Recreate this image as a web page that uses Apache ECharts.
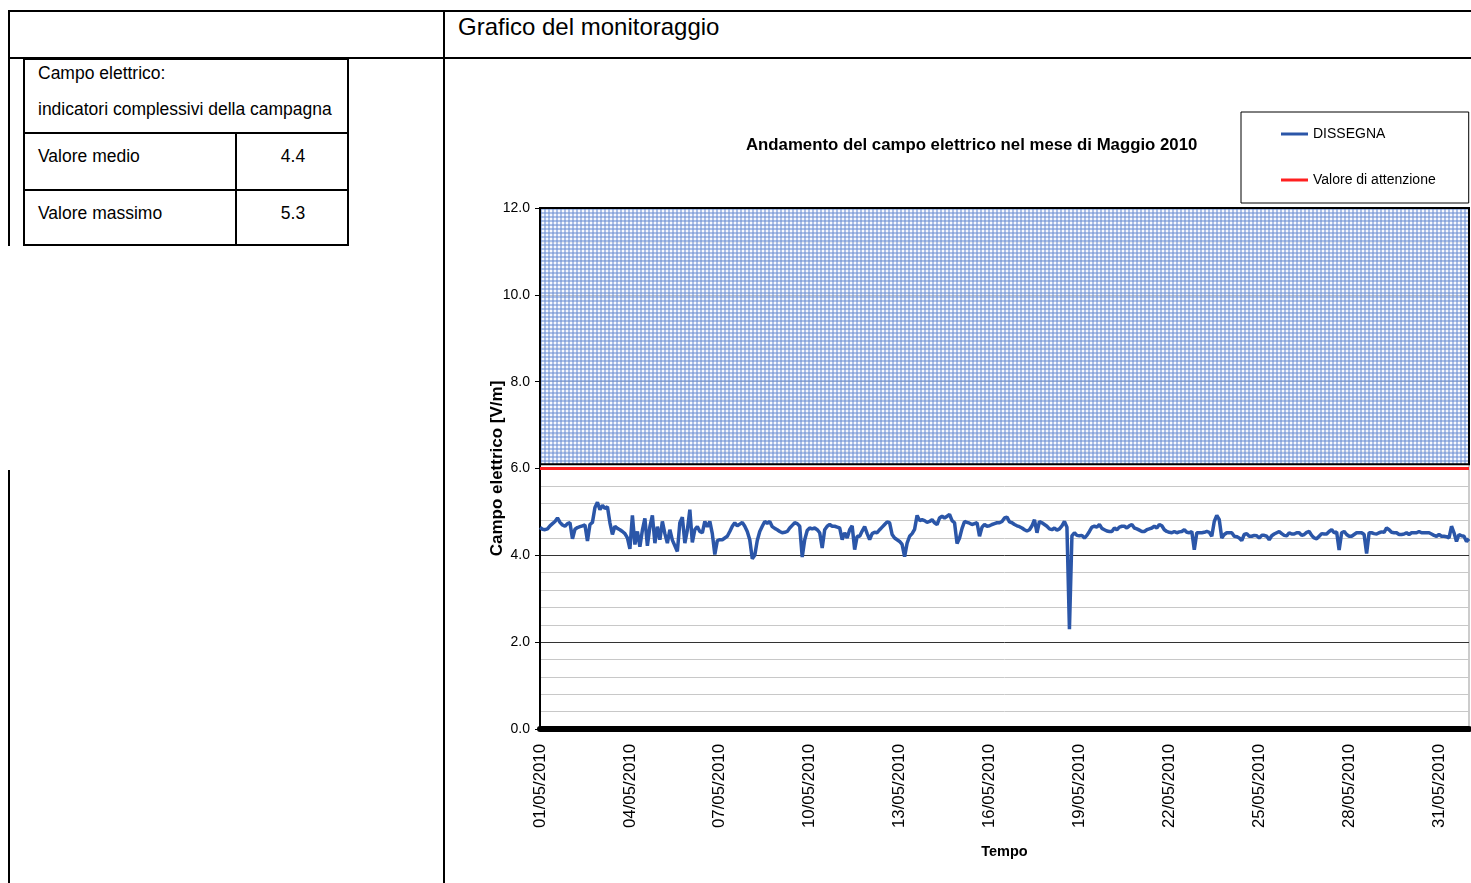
<!DOCTYPE html>
<html><head><meta charset="utf-8">
<script src="https://cdn.jsdelivr.net/npm/echarts@6/dist/echarts.min.js"></script>
<style>
html,body{margin:0;padding:0;background:#fff;}
body{width:1471px;height:883px;position:relative;overflow:hidden;font-family:'Liberation Sans',Arial,sans-serif;}
.l{position:absolute;background:#000;}
.t{position:absolute;font-size:17.5px;line-height:20px;color:#000;white-space:nowrap;}
#chart{position:absolute;left:0;top:0;width:1471px;height:883px;}
</style></head><body>
<div class="l" style="left:8px;top:10px;width:1463px;height:2px"></div>
<div class="l" style="left:8px;top:57px;width:1463px;height:2px"></div>
<div class="l" style="left:8px;top:10px;width:2px;height:236px"></div>
<div class="l" style="left:8px;top:470px;width:2px;height:413px"></div>
<div class="l" style="left:443px;top:10px;width:2px;height:873px"></div>
<div style="position:absolute;left:23px;top:58px;width:322px;height:184px;border:2px solid #000"></div>
<div class="l" style="left:23px;top:132px;width:326px;height:2px"></div>
<div class="l" style="left:23px;top:189px;width:326px;height:2px"></div>
<div class="l" style="left:235px;top:133px;width:2px;height:113px"></div>
<div class="t" style="left:458px;top:13px;font-size:24px;line-height:28px">Grafico del monitoraggio</div>
<div class="t" style="left:38px;top:63px">Campo elettrico:</div>
<div class="t" style="left:38px;top:99px">indicatori complessivi della campagna</div>
<div class="t" style="left:38px;top:146px">Valore medio</div>
<div class="t" style="left:237px;width:112px;text-align:center;top:146px">4.4</div>
<div class="t" style="left:38px;top:203px">Valore massimo</div>
<div class="t" style="left:237px;width:112px;text-align:center;top:203px">5.3</div>
<div id="chart"></div>
<script>
// ---- data ----
const xTickLabels = ['01/05/2010','04/05/2010','07/05/2010','10/05/2010','13/05/2010','16/05/2010',
  '19/05/2010','22/05/2010','25/05/2010','28/05/2010','31/05/2010'];
const axisDays = [0, 31];          // 01/05/2010 00:00 .. 01/06/2010 00:00
const stepHours = 2;               // sampling step of the readings
const dissegna = [
  4.64,4.60,4.59,4.61,4.68,4.73,4.78,4.86,4.76,4.70,4.67,4.73,
  4.75,4.38,4.60,4.64,4.66,4.68,4.70,4.33,4.71,4.76,5.10,5.22,
  5.05,5.15,5.08,5.12,4.75,4.48,4.67,4.62,4.59,4.55,4.50,4.40,
  4.15,4.92,4.25,4.55,4.20,4.58,4.85,4.22,4.66,4.92,4.28,4.66,
  4.36,4.78,4.50,4.28,4.59,4.35,4.22,4.09,4.75,4.88,4.28,4.58,
  5.05,4.30,4.59,4.66,4.55,4.52,4.78,4.66,4.78,4.50,4.02,4.34,
  4.36,4.36,4.40,4.44,4.55,4.67,4.75,4.68,4.72,4.76,4.67,4.55,
  4.36,3.92,4.00,4.34,4.55,4.67,4.78,4.74,4.78,4.66,4.62,4.59,
  4.55,4.52,4.53,4.55,4.63,4.69,4.75,4.73,4.67,3.96,4.36,4.57,
  4.63,4.61,4.63,4.59,4.52,4.17,4.59,4.67,4.71,4.67,4.67,4.65,
  4.63,4.36,4.52,4.40,4.59,4.68,4.13,4.44,4.44,4.56,4.66,4.50,
  4.36,4.50,4.53,4.52,4.59,4.65,4.71,4.77,4.75,4.48,4.40,4.36,
  4.32,4.25,3.97,4.28,4.44,4.50,4.60,4.92,4.80,4.82,4.80,4.76,
  4.78,4.82,4.75,4.71,4.86,4.90,4.86,4.90,4.94,4.80,4.75,4.27,
  4.40,4.62,4.78,4.76,4.74,4.71,4.73,4.75,4.44,4.65,4.71,4.67,
  4.68,4.71,4.73,4.75,4.75,4.78,4.86,4.88,4.77,4.75,4.71,4.68,
  4.66,4.63,4.59,4.56,4.59,4.68,4.82,4.52,4.78,4.75,4.71,4.67,
  4.61,4.59,4.63,4.58,4.61,4.68,4.78,4.65,2.30,4.45,4.52,4.46,
  4.45,4.46,4.40,4.46,4.55,4.65,4.67,4.65,4.71,4.62,4.59,4.56,
  4.55,4.55,4.63,4.59,4.65,4.67,4.67,4.63,4.68,4.71,4.63,4.61,
  4.58,4.55,4.55,4.59,4.61,4.63,4.67,4.63,4.71,4.68,4.59,4.55,
  4.53,4.52,4.55,4.52,4.54,4.55,4.59,4.53,4.52,4.55,4.13,4.52,
  4.52,4.52,4.53,4.55,4.53,4.44,4.78,4.92,4.82,4.40,4.48,4.52,
  4.52,4.52,4.44,4.43,4.40,4.34,4.48,4.50,4.44,4.44,4.46,4.45,
  4.40,4.46,4.46,4.44,4.36,4.45,4.49,4.52,4.55,4.50,4.46,4.45,
  4.52,4.49,4.49,4.52,4.52,4.46,4.48,4.53,4.55,4.46,4.40,4.38,
  4.44,4.50,4.49,4.49,4.55,4.59,4.52,4.54,4.12,4.52,4.55,4.48,
  4.44,4.44,4.48,4.52,4.52,4.52,4.48,4.04,4.52,4.52,4.50,4.49,
  4.52,4.54,4.53,4.63,4.59,4.53,4.52,4.52,4.48,4.48,4.49,4.52,
  4.48,4.52,4.52,4.52,4.55,4.52,4.52,4.52,4.52,4.49,4.46,4.44,
  4.48,4.44,4.44,4.43,4.40,4.67,4.52,4.32,4.48,4.45,4.44,4.32,
  4.38
];
const attenzione = 6.0;
const hatchBand = [6.1, 12.0];
const yRange = [0, 12];

// ---- chart ----
const REG = "'Liberation Sans',Arial,sans-serif";
function makeHatch(){
  const c = document.createElement('canvas'); c.width = 4; c.height = 4;
  const g = c.getContext('2d');
  g.fillStyle = 'rgba(244,247,253,0.75)'; g.fillRect(0,0,4,4);
  g.fillStyle = 'rgba(112,146,212,0.55)'; g.fillRect(0,0,4,2); g.fillRect(0,0,2,4);
  return c;
}
const lineData = dissegna.map((v,i)=>[i*stepHours/24, v]);
const chart = echarts.init(document.getElementById('chart'), null, {renderer:'canvas'});
chart.setOption({
  animation:false,
  title:{text:'Andamento del campo elettrico nel mese di Maggio 2010', left:741, top:132,
    textStyle:{fontFamily:REG, fontWeight:'bold', fontSize:16.8, color:'#000'}},
  legend:{left:1241, top:112, orient:'vertical', padding:[15,33,16,40], itemGap:32,
    borderColor:'#000', borderWidth:1, icon:'rect', itemWidth:27, itemHeight:3,
    textStyle:{fontFamily:REG, fontSize:14, color:'#000'},
    data:['DISSEGNA','Valore di attenzione']},
  grid:{left:540, top:208, right:2, bottom:154, show:true, borderColor:'#999', borderWidth:1},
  xAxis:{type:'value', min:axisDays[0], max:axisDays[1], interval:3,
    name:'Tempo', nameLocation:'middle', nameGap:115,
    nameTextStyle:{fontFamily:REG, fontWeight:'bold', fontSize:14.5, color:'#000'},
    axisLine:{lineStyle:{color:'#000', width:6}}, axisTick:{show:false},
    splitLine:{show:false},
    axisLabel:{rotate:90, margin:15, fontFamily:REG, fontSize:16.8, color:'#000', showMaxLabel:false,
      formatter:(v)=>{const k=Math.round((v-axisDays[0])/3); return (Math.abs(v-k*3)<1e-6 && xTickLabels[k])||'';}}},
  yAxis:{type:'value', min:yRange[0], max:yRange[1], interval:2,
    name:'Campo elettrico [V/m]', nameLocation:'middle', nameGap:34, nameMoveOverlap:false,
    nameTextStyle:{fontFamily:REG, fontWeight:'bold', fontSize:17, color:'#000'},
    axisLine:{show:true, lineStyle:{color:'#000', width:2}},
    axisTick:{show:true, length:5, lineStyle:{color:'#000'}},
    axisLabel:{margin:10, fontFamily:REG, fontSize:14, color:'#000', formatter:(v)=>v.toFixed(1)},
    splitLine:{lineStyle:{color:'#333', width:1}},
    minorTick:{show:false, splitNumber:5},
    minorSplitLine:{show:true, lineStyle:{color:'#c8c8c8', width:1}}},
  series:[
    {name:'DISSEGNA', type:'line', data:lineData, showSymbol:false, symbol:'none', z:5,
      lineStyle:{color:'#2b56a8', width:3.5}, itemStyle:{color:'#2b56a8'}},
    {name:'Valore di attenzione', type:'line', showSymbol:false, symbol:'none', z:4,
      data:[[axisDays[0],attenzione],[axisDays[1],attenzione]],
      lineStyle:{color:'#ff2020', width:3}, itemStyle:{color:'#ff2020'},
      markArea:{silent:true, itemStyle:{color:{image:makeHatch(), repeat:'repeat'}, borderColor:'#000', borderWidth:2},
        data:[[{xAxis:axisDays[0], yAxis:hatchBand[0]},{xAxis:axisDays[1], yAxis:hatchBand[1]}]]}}
  ]
});
</script>
</body></html>
